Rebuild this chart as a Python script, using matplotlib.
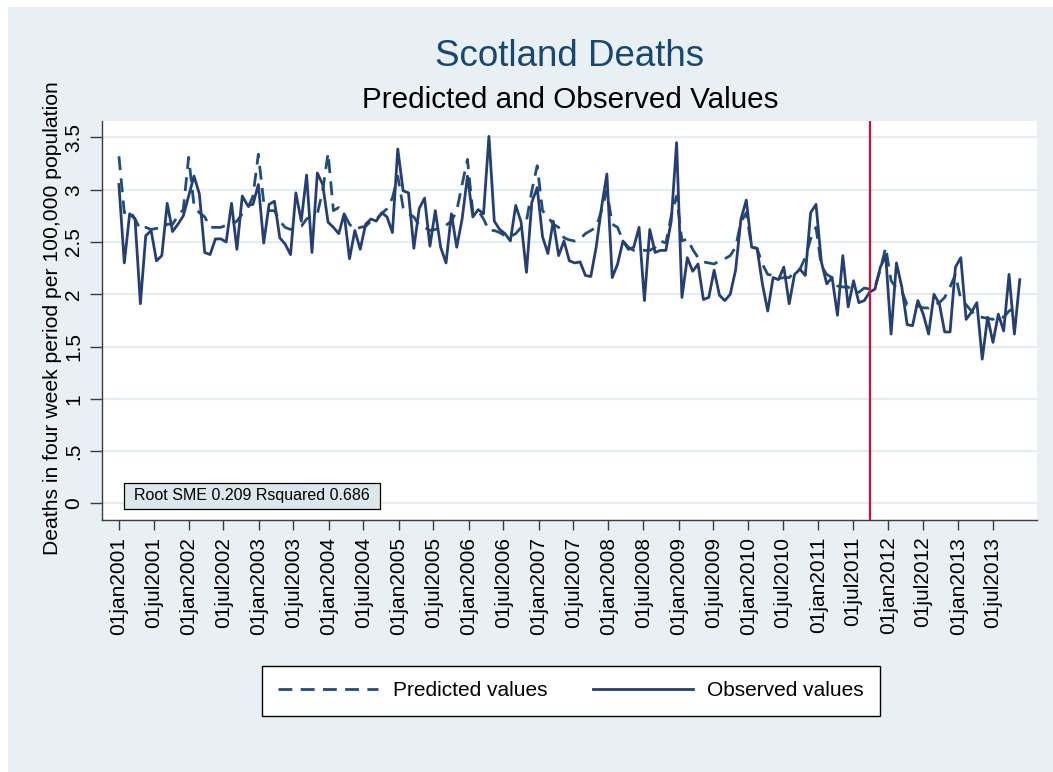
import pandas as pd
import matplotlib
matplotlib.use("Agg")
import matplotlib.pyplot as plt
from matplotlib.lines import Line2D
from matplotlib.patches import Rectangle

plt.rcParams['font.family'] = ['Liberation Sans', 'DejaVu Sans']

# ---- data -------------------------------------------------------------
series_start = "2001-01-01"
period_days = 28
forecast_start = "2011-09-26"

observed = [
    3.05, 2.30, 2.77, 2.72, 1.91, 2.56, 2.61, 2.32, 2.37, 2.87,
    2.60, 2.67, 2.75, 2.94, 3.13, 2.96, 2.40, 2.38, 2.53, 2.53,
    2.50, 2.87, 2.43, 2.94, 2.85, 2.86, 3.05,
    2.49, 2.86, 2.89, 2.54, 2.48, 2.38, 2.97, 2.70, 3.14, 2.40,
    3.16, 3.05, 2.69, 2.64, 2.58, 2.77, 2.34, 2.61, 2.43, 2.67,
    2.72, 2.70, 2.78, 2.74, 2.59, 3.39,
    2.99, 2.97, 2.44, 2.82, 2.92, 2.46, 2.80, 2.45, 2.30, 2.77,
    2.45, 2.72, 3.13, 2.74, 2.81, 2.77, 3.51, 2.70, 2.62, 2.58,
    2.51, 2.85, 2.69, 2.21, 2.88, 3.02, 2.55, 2.39, 2.70, 2.37,
    2.51, 2.32, 2.30, 2.31, 2.18, 2.17, 2.45, 2.83, 3.15, 2.16,
    2.29, 2.51, 2.43, 2.45, 2.64, 1.94, 2.62, 2.40, 2.42, 2.42,
    2.70, 3.45, 1.97, 2.35, 2.22, 2.29, 1.95, 1.97,
    2.23, 1.99, 1.94, 2.00, 2.23, 2.72, 2.90, 2.45, 2.44, 2.10,
    1.84, 2.16, 2.14, 2.26, 1.91, 2.19, 2.24, 2.18, 2.78, 2.86,
    2.31, 2.10, 2.16, 1.80, 2.37, 1.88, 2.13, 1.92,
    1.94, 2.02, 2.05, 2.26, 2.37, 1.62, 2.30, 2.07, 1.71, 1.70,
    1.94, 1.81, 1.62, 2.00, 1.91, 1.64, 1.64, 2.26, 2.35, 1.76,
    1.83, 1.92, 1.38, 1.78, 1.54, 1.81, 1.65, 2.19, 1.62, 2.14,
]

predicted = [
    3.32, 2.78, 2.80, 2.72, 2.62, 2.64, 2.62, 2.63, 2.63, 2.67,
    2.67, 2.75, 2.81, 3.31, 2.85, 2.78, 2.74, 2.64, 2.64, 2.64,
    2.66, 2.67, 2.70, 2.77, 2.82, 2.94, 3.34,
    2.88, 2.80, 2.80, 2.70, 2.64, 2.62, 2.64, 2.65, 2.72, 2.75,
    2.77, 2.99, 3.35, 2.80, 2.83, 2.77, 2.67, 2.62, 2.64, 2.65,
    2.70, 2.72, 2.77, 2.82, 2.92, 3.13,
    2.83, 2.77, 2.74, 2.66, 2.64, 2.61, 2.62, 2.64, 2.66, 2.70,
    2.80, 3.05, 3.29, 2.78, 2.80, 2.72, 2.61, 2.61, 2.59, 2.56,
    2.55, 2.58, 2.64, 2.70, 2.99, 3.23, 2.80, 2.74, 2.67, 2.64,
    2.54, 2.52, 2.51, 2.53, 2.58, 2.61, 2.64, 2.80, 2.99, 2.67,
    2.64, 2.51, 2.45, 2.42, 2.42, 2.42, 2.42, 2.45, 2.51, 2.49,
    2.75, 2.94, 2.51, 2.53, 2.43, 2.35, 2.31, 2.30,
    2.29, 2.32, 2.34, 2.37, 2.45, 2.69, 2.78, 2.45, 2.44, 2.29,
    2.19, 2.18, 2.15, 2.16, 2.16, 2.21, 2.24, 2.35, 2.53, 2.64,
    2.27, 2.19, 2.16, 2.08, 2.07, 2.07, 2.03, 2.02,
    2.06, 2.05, 2.07, 2.24, 2.45, 2.13, 2.06, 2.03, 1.90, 1.90,
    1.89, 1.87, 1.87, 1.90, 1.92, 1.97, 2.07, 2.19, 1.95, 1.90,
    1.84, 1.79, 1.78, 1.77, 1.76, 1.79, 1.78, 1.84, 1.87, 1.89,
]

y_ticks = [0, 0.5, 1, 1.5, 2, 2.5, 3, 3.5]
y_tick_labels = ["0", ".5", "1", "1.5", "2", "2.5", "3", "3.5"]
x_tick_first = "2001-01-01"
x_tick_last = "2013-07-01"

title = "Scotland Deaths"
subtitle = "Predicted and Observed Values"
y_label = "Deaths in four week period per 100,000 population"
fit_note = "Root SME 0.209 Rsquared 0.686"
legend_labels = ["Predicted values", "Observed values"]

# ---- styling ----------------------------------------------------------
BG = "#e8f0f3"
GRID = "#e4edf0"
AXIS = "#3c3c3c"
PRED_COLOR = "#1f4e79"
OBS_COLOR = "#263f73"
CUT_COLOR = "#d0103a"
TITLE_COLOR = "#1a476f"
LINE_W = 2.0
DASH = (0, (5.0, 3.0))

W, H = 1053, 772
fig = plt.figure(figsize=(W / 100, H / 100), dpi=100, facecolor="white")
fig.patches.append(Rectangle((8 / W, 0), 1 - 8 / W, 1 - 7 / H,
                             transform=fig.transFigure, facecolor=BG,
                             edgecolor="none", zorder=-10))

left_px, right_px, top_px, bottom_px = 101.7, 1037, 120.7, 520
ax = fig.add_axes([left_px / W, 1 - bottom_px / H,
                   (right_px - left_px) / W, (bottom_px - top_px) / H])
ax.set_facecolor("white")

dates = pd.date_range(series_start, periods=len(observed), freq=f"{period_days}D")
start = pd.Timestamp(series_start)

ax.plot(dates, predicted, color=PRED_COLOR, lw=LINE_W, linestyle=DASH, zorder=3)
ax.plot(dates, observed, color=OBS_COLOR, lw=LINE_W, zorder=4)
ax.axvline(pd.Timestamp(forecast_start), color=CUT_COLOR, lw=1.6, zorder=5)

ax.set_xlim(start - pd.Timedelta(days=90), start + pd.Timedelta(days=4794))
ax.set_ylim(-0.158, 3.66)

for side in ("top", "right"):
    ax.spines[side].set_visible(False)
for side in ("left", "bottom"):
    ax.spines[side].set_color(AXIS)
    ax.spines[side].set_linewidth(1.0)

ax.set_yticks(y_ticks)
ax.set_yticklabels(y_tick_labels, rotation=90, va="center")
ax.yaxis.grid(True, color=GRID, lw=1.6)
ax.set_axisbelow(True)

x_tick_dates = pd.date_range(x_tick_first, x_tick_last, freq="6MS")
ax.set_xticks(x_tick_dates)
ax.set_xticklabels([f"{d.day:02d}{d.strftime('%b').lower()}{d.year}"
                    for d in x_tick_dates], rotation=90, ha="center")

ax.tick_params(axis="y", length=8.5, width=1, color=AXIS, labelsize=15, pad=5)
ax.tick_params(axis="x", length=7, width=1, color=AXIS, labelsize=15, pad=5)

# titles and axis label
fig.text(570 / W, 1 - 57 / H, title, fontsize=26.5, color=TITLE_COLOR,
         ha="center", va="center")
fig.text(570 / W, 1 - 100 / H, subtitle, fontsize=21.3, color="black",
         ha="center", va="center")
fig.text(53 / W, 1 - 318 / H, y_label, fontsize=15.2, rotation=90,
         ha="center", va="center")

# fit statistics box
bx0, bx1, by0, by1 = 124, 380, 509, 483
ax.add_patch(Rectangle(((bx0 - left_px) / (right_px - left_px),
                        (bottom_px - by0) / (bottom_px - top_px)),
                       (bx1 - bx0) / (right_px - left_px),
                       (by0 - by1) / (bottom_px - top_px),
                       transform=ax.transAxes, facecolor="#dce7eb",
                       edgecolor="black", lw=0.9, zorder=6))
ax.text(((bx0 + bx1) / 2 - left_px) / (right_px - left_px),
        (bottom_px - (by0 + by1) / 2) / (bottom_px - top_px),
        fit_note, transform=ax.transAxes, ha="center", va="center",
        fontsize=11.5, zorder=7)

# legend
handles = [Line2D([], [], color=PRED_COLOR, lw=LINE_W, linestyle=DASH),
           Line2D([], [], color=OBS_COLOR, lw=LINE_W)]
leg = fig.legend(handles, legend_labels, loc="center",
                 bbox_to_anchor=(571 / W, 1 - 691 / H), ncol=2, fontsize=15,
                 frameon=True, fancybox=False, edgecolor="black",
                 facecolor="white", framealpha=1, handlelength=4.8,
                 handletextpad=0.7, columnspacing=2.2, borderpad=0.75,
                 borderaxespad=0)
leg.get_frame().set_linewidth(1.0)

fig.savefig("out.png", dpi=100, facecolor=fig.get_facecolor())
